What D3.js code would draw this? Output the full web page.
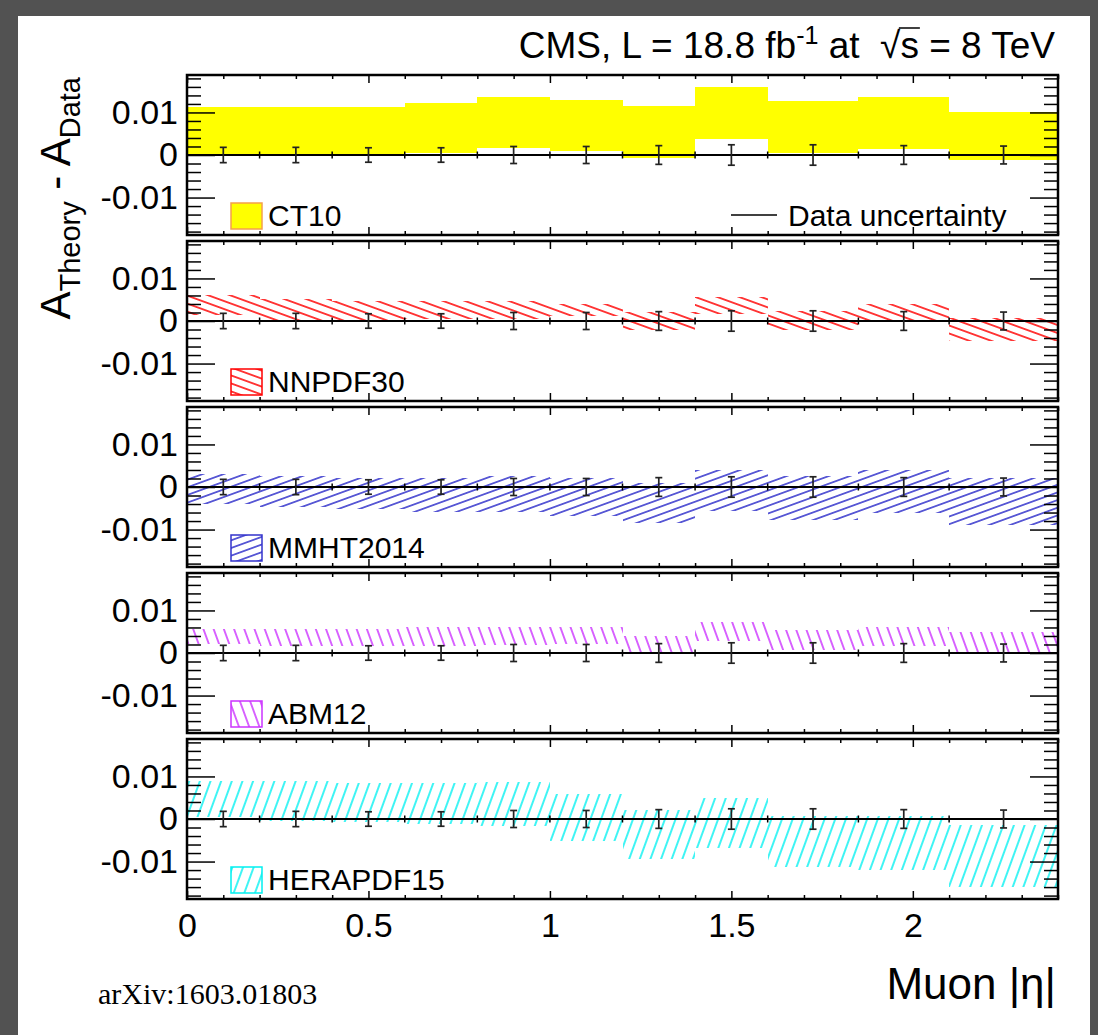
<!DOCTYPE html>
<html>
<head>
<meta charset="utf-8">
<script src="https://cdn.jsdelivr.net/npm/d3@7"></script>
<style>
  body { margin: 0; background: #525252; }
  svg text { font-family: "Liberation Sans", Arial, Helvetica, sans-serif; fill: #000; }
</style>
</head>
<body>
<div id="chart"></div>
<script>
// ---- data ----
const binEdges = [0, 0.2, 0.4, 0.6, 0.8, 1.0, 1.2, 1.4, 1.6, 1.85, 2.1, 2.4];
const dataEta = [0.1, 0.3, 0.5, 0.7, 0.9, 1.1, 1.3, 1.5, 1.725, 1.975, 2.25];
const dataErr = [0.0018, 0.0018, 0.0017, 0.0017, 0.0020, 0.0020, 0.0022, 0.0024, 0.0024, 0.0022, 0.0021];

const ct10Lo = [0.0003, 0.0001, 0.0001, 0.0005, 0.0016, 0.0009, -0.0008, 0.0037, 0.0005, 0.0013, -0.0012];
const ct10Hi = [0.0112, 0.0112, 0.0112, 0.0122, 0.0137, 0.0130, 0.0116, 0.0160, 0.0128, 0.0136, 0.0100];

const nnpdfLo = [0.0013, 0.0003, 0.0003, 0.0004, 0.0004, 0.0011, -0.0020, 0.0016, -0.0020, 0.0000, -0.0048];
const nnpdfHi = [0.0061, 0.0052, 0.0048, 0.0048, 0.0048, 0.0041, 0.0021, 0.0056, 0.0024, 0.0040, 0.0008];

const mmhtLo = [-0.0039, -0.0047, -0.0051, -0.0059, -0.0059, -0.0067, -0.0085, -0.0057, -0.0077, -0.0061, -0.0089];
const mmhtHi = [0.0031, 0.0025, 0.0022, 0.0022, 0.0025, 0.0020, 0.0010, 0.0039, 0.0025, 0.0041, 0.0021];

const abmLo = [0.0021, 0.0016, 0.0016, 0.0016, 0.0018, 0.0021, -0.0002, 0.0029, 0.0008, 0.0016, -0.0002];
const abmHi = [0.0056, 0.0056, 0.0057, 0.0060, 0.0060, 0.0062, 0.0040, 0.0074, 0.0054, 0.0062, 0.0050];

const heraLo = [0.0004, -0.0004, -0.0008, -0.0012, -0.0016, -0.0051, -0.0095, -0.0068, -0.0113, -0.0121, -0.0160];
const heraHi = [0.0090, 0.0090, 0.0084, 0.0084, 0.0086, 0.0059, 0.0022, 0.0049, 0.0006, 0.0006, -0.0013];

const pdfNames = ["CT10", "NNPDF30", "MMHT2014", "ABM12", "HERAPDF15"];
const xTicks = [0, 0.5, 1, 1.5, 2];
const yTicks = [-0.01, 0, 0.01];

// ---- styles ----
const bandStyles = [
    { fill: "#ffff00", stroke: "#f5a04a" },
    { color: "#ff0000", angle: 20, gap: 7.5 },
    { color: "#3333cc", angle: -20, gap: 7.2 },
    { color: "#cc33ff", angle: 70, gap: 9.6 },
    { color: "#00f0f0", angle: -70, gap: 10 }
];

const W = 1098, H = 1035;
const frameL = 187, frameR = 1058;
const panelTop0 = 75, panelH = 160, panelStep = 166;
const fontMain = 34;

const svg = d3.select("#chart").append("svg")
    .attr("width", W)
    .attr("height", H);

svg.append("rect").attr("width", W).attr("height", H).attr("fill", "#525252");
svg.append("rect").attr("x", 18).attr("y", 16).attr("width", 1072).attr("height", H - 16).attr("fill", "#fff");

const defs = svg.append("defs");
bandStyles.forEach((s, i) => {
    if (!s.color) return;
    const p = defs.append("pattern")
        .attr("id", "hatch" + i)
        .attr("patternUnits", "userSpaceOnUse")
        .attr("width", 20)
        .attr("height", s.gap)
        .attr("patternTransform", `rotate(${s.angle})`);
    p.append("line")
        .attr("x1", -1).attr("x2", 21)
        .attr("y1", s.gap / 2).attr("y2", s.gap / 2)
        .attr("stroke", s.color)
        .attr("stroke-width", 1.5);
});

const x = d3.scaleLinear().domain([0, 2.4]).range([frameL, frameR]);
const minorX = d3.range(25).filter(i => i % 5 !== 0).map(i => i / 10);
const minorY = d3.range(-9, 10).filter(i => i % 5 !== 0).map(i => i * 0.002);

const pdfLo = [ct10Lo, nnpdfLo, mmhtLo, abmLo, heraLo];
const pdfHi = [ct10Hi, nnpdfHi, mmhtHi, abmHi, heraHi];

const bins = d3.range(binEdges.length - 1);

pdfNames.forEach((name, p) => {
    const top = panelTop0 + p * panelStep;
    const bottom = top + panelH;
    const y = d3.scaleLinear().domain([-0.0188, 0.0188]).range([bottom, top]);
    const g = svg.append("g").attr("class", "panel");
    const st = bandStyles[p];
    const fill = st.color ? `url(#hatch${p})` : st.fill;

    // theory band
    g.selectAll(".band")
        .data(bins)
        .enter()
        .append("rect")
        .attr("class", "band")
        .attr("x", i => x(binEdges[i]))
        .attr("width", i => x(binEdges[i + 1]) - x(binEdges[i]))
        .attr("y", i => y(pdfHi[p][i]))
        .attr("height", i => y(pdfLo[p][i]) - y(pdfHi[p][i]))
        .attr("fill", fill)
        .attr("shape-rendering", "crispEdges");

    // data at zero: horizontal bin bars with end ticks
    g.append("line")
        .attr("x1", x(0)).attr("x2", x(2.4))
        .attr("y1", y(0)).attr("y2", y(0))
        .attr("stroke", "#000").attr("stroke-width", 2);
    g.selectAll(".edge")
        .data(binEdges)
        .enter()
        .append("line")
        .attr("x1", d => x(d)).attr("x2", d => x(d))
        .attr("y1", y(0) - 3.5).attr("y2", y(0) + 3.5)
        .attr("stroke", "#000").attr("stroke-width", 1.5);

    // data uncertainty bars
    const eb = g.selectAll(".err")
        .data(dataEta)
        .enter()
        .append("g")
        .attr("class", "err")
        .attr("stroke", "#222")
        .attr("stroke-width", 1.7);
    eb.append("line")
        .attr("x1", d => x(d)).attr("x2", d => x(d))
        .attr("y1", (d, i) => y(dataErr[i])).attr("y2", (d, i) => y(-dataErr[i]));
    eb.append("line")
        .attr("x1", d => x(d) - 3.5).attr("x2", d => x(d) + 3.5)
        .attr("y1", (d, i) => y(dataErr[i])).attr("y2", (d, i) => y(dataErr[i]));
    eb.append("line")
        .attr("x1", d => x(d) - 3.5).attr("x2", d => x(d) + 3.5)
        .attr("y1", (d, i) => y(-dataErr[i])).attr("y2", (d, i) => y(-dataErr[i]));

    // axes (ticks pointing inward, ROOT style)
    const addAxis = (axis, tx, ty, labels) => {
        const a = g.append("g")
            .attr("transform", `translate(${tx},${ty})`)
            .call(axis);
        a.select(".domain").remove();
        a.selectAll(".tick line").attr("stroke", "#000").attr("stroke-width", 1.5);
        a.selectAll("text")
            .attr("font-size", fontMain)
            .attr("font-family", "Liberation Sans, Arial, sans-serif")
            .attr("fill", "#000");
        if (!labels) a.selectAll("text").remove();
        return a;
    };
    const fmt = d => String(d);

    addAxis(d3.axisBottom(x).tickValues(xTicks).tickSize(-8).tickPadding(14).tickFormat(fmt), 0, bottom, p === pdfNames.length - 1);
    addAxis(d3.axisBottom(x).tickValues(minorX).tickSize(-4).tickFormat(""), 0, bottom, false);
    addAxis(d3.axisTop(x).tickValues(xTicks).tickSize(-8).tickFormat(""), 0, top, false);
    addAxis(d3.axisTop(x).tickValues(minorX).tickSize(-4).tickFormat(""), 0, top, false);

    addAxis(d3.axisLeft(y).tickValues(yTicks).tickSize(-28).tickPadding(9).tickFormat(fmt), frameL, 0, true);
    addAxis(d3.axisLeft(y).tickValues(minorY).tickSize(-14).tickFormat(""), frameL, 0, false);
    addAxis(d3.axisRight(y).tickValues(yTicks).tickSize(-28).tickFormat(""), frameR, 0, false);
    addAxis(d3.axisRight(y).tickValues(minorY).tickSize(-14).tickFormat(""), frameR, 0, false);

    // frame
    g.append("rect")
        .attr("x", frameL).attr("y", top)
        .attr("width", frameR - frameL).attr("height", panelH)
        .attr("fill", "none")
        .attr("stroke", "#000")
        .attr("stroke-width", 2.5);

    // legend entry
    g.append("rect")
        .attr("x", 231).attr("y", top + 128)
        .attr("width", 31).attr("height", 26)
        .attr("fill", fill)
        .attr("stroke", st.color || st.stroke)
        .attr("stroke-width", 1.5);
    g.append("text")
        .attr("x", 268).attr("y", top + 151)
        .attr("font-size", 30)
        .text(name);

    if (p === 0) {
        g.append("line")
            .attr("x1", 731).attr("x2", 777)
            .attr("y1", top + 140).attr("y2", top + 140)
            .attr("stroke", "#000").attr("stroke-width", 1.5);
        g.append("text")
            .attr("x", 788).attr("y", top + 151)
            .attr("font-size", 30)
            .text("Data uncertainty");
    }
});

// title
const title = svg.append("text")
    .attr("x", 1055).attr("y", 58)
    .attr("text-anchor", "end")
    .attr("font-size", 37);
title.append("tspan").text("CMS, L = 18.8 fb");
title.append("tspan").attr("font-size", 25).attr("dy", -14).text("-1");
title.append("tspan").attr("dy", 14).text("\u00A0at\u00A0\u00A0");
title.append("tspan").text("\u221A");
title.append("tspan").text("s");
title.append("tspan").text(" = 8 TeV");

const tn = title.node();
const nChars = tn.getNumberOfChars();
const sIdx = nChars - " = 8 TeV".length - 1;
const rootBox = tn.getExtentOfChar(sIdx - 1);
const sBox = tn.getExtentOfChar(sIdx);
svg.append("line")
    .attr("x1", rootBox.x + rootBox.width - 1.5)
    .attr("x2", sBox.x + sBox.width + 1)
    .attr("y1", rootBox.y + 3).attr("y2", rootBox.y + 3)
    .attr("stroke", "#000").attr("stroke-width", 1.5);

// y axis title
const yl = svg.append("text")
    .attr("transform", "translate(70,77) rotate(-90)")
    .attr("text-anchor", "end")
    .attr("font-size", 42);
yl.append("tspan").text("A");
yl.append("tspan").attr("font-size", 29).attr("dy", 10).text("Theory");
yl.append("tspan").attr("dy", -10).text(" - A");
yl.append("tspan").attr("font-size", 29).attr("dy", 10).text("Data");

// x axis title
svg.append("text")
    .attr("x", 1056).attr("y", 999)
    .attr("text-anchor", "end")
    .attr("font-size", 44)
    .text("Muon |\u03B7|");

// source note
svg.append("text")
    .attr("x", 98).attr("y", 1004)
    .attr("font-size", 30)
    .style("font-family", "'Liberation Serif', 'Times New Roman', serif")
    .text("arXiv:1603.01803");
</script>
</body>
</html>
